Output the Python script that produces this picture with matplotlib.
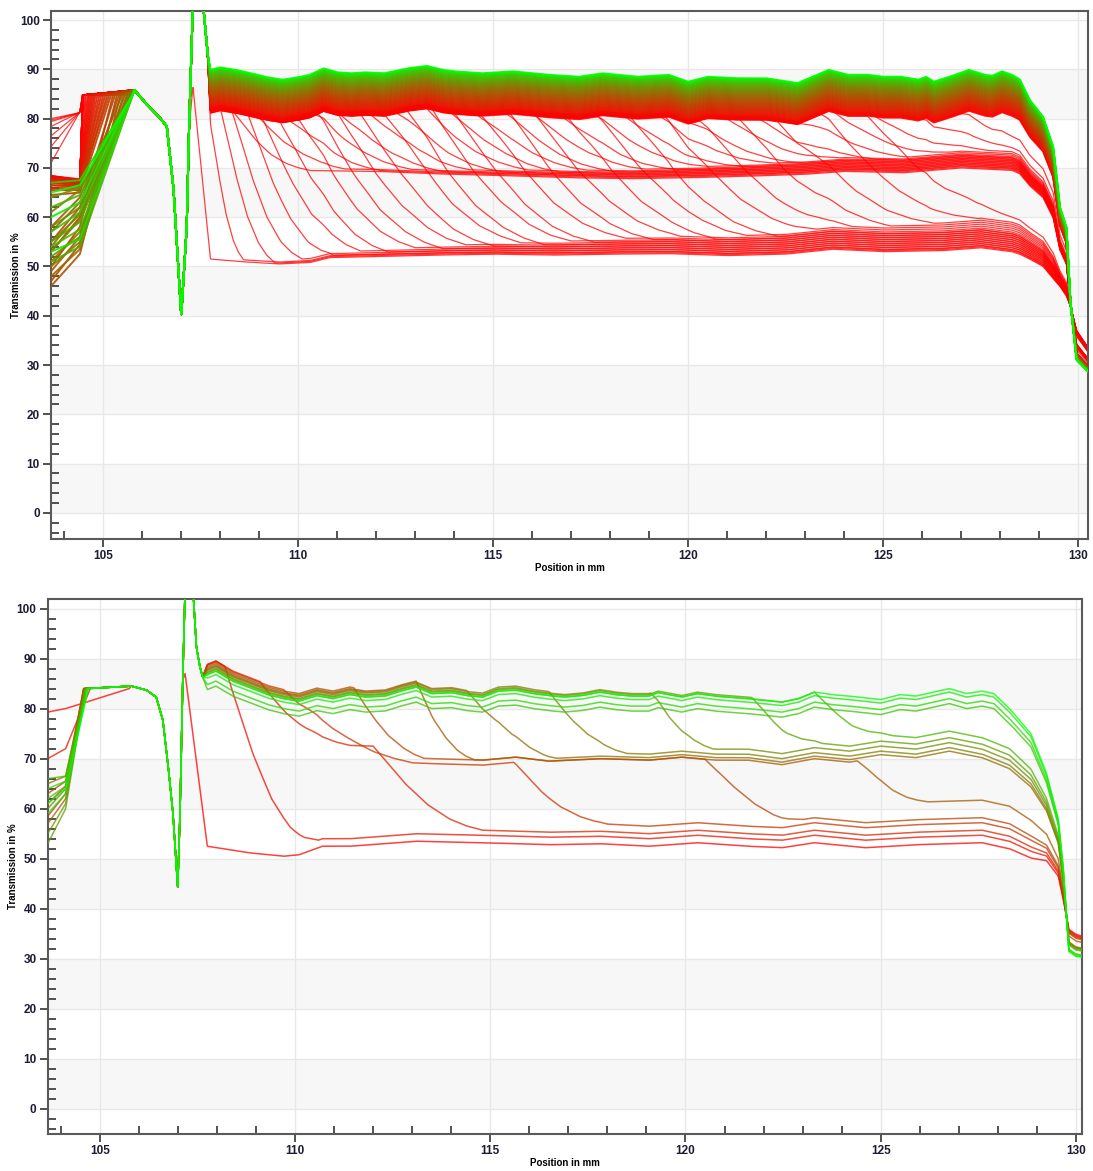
import numpy as np
import matplotlib.pyplot as plt

plt.rcParams['font.family'] = ['Liberation Sans', 'DejaVu Sans']

X_LEFT = 103.66

# ---------------- top chart, values ----------------
TOP_SPIKE_X = [106.1, 106.45, 106.63, 106.8, 107.0, 107.14, 107.2, 107.3, 107.55, 107.68]
TOP_SPIKE_Y = [83.0, 80.2, 78.4, 66.0, 40.0, 58.0, 78.0, 104.0, 104.0, 93.0]

TOP_PLAT_X = [107.75, 108.0, 108.4, 108.8, 109.2, 109.6, 110.0, 110.3, 110.65, 111.0, 111.35,
              111.7, 112.2, 112.8, 113.3, 113.7, 114.0, 114.7, 115.5, 116.4, 117.2, 117.8,
              118.7, 119.5, 120.0, 120.5, 121.2, 122.0, 122.8, 123.6, 124.1, 124.6, 125.0,
              125.45, 125.9, 126.1, 126.3, 126.7, 127.2, 127.6, 127.8, 128.05, 128.3]
TOP_PLAT_Y = [89.9, 90.4, 89.9, 89.2, 88.4, 87.9, 88.4, 88.9, 90.2, 89.4, 89.2,
              89.4, 89.2, 90.2, 90.7, 89.9, 89.6, 89.2, 89.6, 88.9, 88.5, 89.2,
              88.5, 88.9, 87.5, 88.5, 88.2, 88.2, 87.2, 89.9, 88.9, 88.9, 88.5,
              88.5, 87.9, 88.5, 87.5, 88.5, 89.9, 88.9, 88.7, 89.6, 88.9]
TOP_MID_X = [107.75, 110.0, 112.0, 113.5, 115.0, 117.0, 118.5, 120.0, 121.5, 123.0, 124.0, 125.5, 127.0, 128.3]
TOP_MID_Y = [70.0, 69.5, 69.3, 68.8, 68.5, 68.0, 67.8, 68.0, 68.3, 68.7, 69.3, 69.0, 70.0, 69.5]
TOP_LOW_X = [107.75, 108.5, 109.5, 110.3, 110.8, 112.0, 113.5, 115.0, 116.5, 118.0, 119.5,
             121.0, 122.5, 123.7, 125.0, 126.5, 127.5, 128.3]
TOP_LOW_Y = [51.5, 51.0, 50.5, 50.8, 51.8, 52.0, 52.3, 52.5, 52.3, 52.5, 52.6,
             52.2, 52.5, 53.5, 53.0, 53.2, 53.8, 53.0]
TOP_END_X = [128.3, 128.5, 128.76, 129.1, 129.36, 129.53, 129.7, 129.8, 129.96, 130.3]
TOP_END_HI = [88.9, 88.0, 83.8, 80.4, 74.3, 62.1, 58.0, 43.0, 31.0, 28.3]
TOP_END_LO = [53.0, 52.5, 51.5, 50.0, 47.5, 46.0, 44.0, 42.0, 37.0, 33.0]

# curves whose front falls to the low level (~52 %)
TOP_A_FRONT = [107.45, 107.7, 108.0, 108.3, 108.7, 109.1, 109.5, 110.0, 110.5, 111.0, 111.6,
               112.2, 112.8, 113.4, 114.0, 114.7, 115.4, 116.1, 116.9, 117.7, 118.5, 119.4,
               120.3, 121.3, 122.3, 123.4, 124.6]
TOP_A_WIDTH = [0.25, 0.9, 1.4, 1.8, 2.2, 2.5, 2.8, 3.0, 3.2, 3.3, 3.4, 3.5, 3.5, 3.6, 3.6,
               3.7, 3.7, 3.7, 3.8, 3.8, 3.8, 3.9, 3.9, 3.9, 4.0, 4.0, 4.0]
TOP_A_LEVEL = [0.0, 0.4, 0.2, 0.8, 0.5, 1.2, 0.9, 1.6, 1.3, 2.0, 1.7, 2.4, 2.1, 2.8, 2.5,
               3.2, 2.9, 3.6, 3.3, 4.0, 3.7, 4.4, 4.8, 5.2, 5.6, 6.0, 6.5]
TOP_A_DROP = [8.4, 8.7, 8.2, 8.5, 8.3, 8.8, 8.1, 8.4, 8.6, 8.2, 8.5, 8.3, 8.7, 8.1, 8.4,
              8.6, 8.2, 8.5, 8.3, 8.7, 8.1, 8.4, 8.6, 8.2, 8.5, 8.3, 8.4]
TOP_A_START = [80.0, 79.7, 79.4, 78.4, 76.5, 74.3, 71.0, 68.5, 68.0, 67.8, 68.3, 67.5, 68.0,
               67.2, 68.4, 67.6, 67.9, 68.2, 67.4, 68.0, 67.7, 68.3, 67.5, 68.1, 67.8, 67.3, 68.0]
TOP_A_KNEE = [81.2, 81.2, 81.2, 81.3, 81.3, 81.4, 81.4, 67.5, 67.3, 67.0, 67.6, 66.8, 67.2,
              66.6, 67.8, 67.0, 67.3, 67.5, 66.9, 67.4, 67.1, 67.6, 66.9, 67.5, 67.2, 66.8, 67.4]

# curves whose front falls to the middle level (~70 %)
TOP_B_FRONT = [108.3, 109.0, 109.7, 110.4, 111.1, 111.8, 112.5, 113.2, 113.9, 114.6, 115.3,
               116.0, 116.8, 117.6, 118.4, 119.2, 120.0, 120.9, 121.8, 122.7, 123.7, 124.7,
               125.8, 126.9]
TOP_B_WIDTH = [2.0, 2.2, 2.4, 2.5, 2.6, 2.6, 2.7, 2.7, 2.8, 2.8, 2.8, 2.9, 2.9, 2.9, 3.0,
               3.0, 3.0, 3.0, 3.0, 3.0, 3.0, 3.0, 3.0, 3.0]
TOP_B_LEVEL = [0.0, 0.4, 0.2, 0.7, 0.5, 1.0, 0.8, 1.3, 1.1, 1.6, 1.4, 1.9, 1.7, 2.2, 2.0,
               2.5, 2.3, 2.8, 2.6, 3.1, 3.4, 3.8, 4.2, 4.6]
TOP_B_DROP = [8.3, 8.6, 8.1, 8.4, 8.7, 8.2, 8.5, 8.0, 8.4, 8.6, 8.3, 8.1, 8.5, 8.2, 8.4,
              8.0, 8.3, 7.9, 8.2, 7.8, 8.1, 7.9, 7.7, 8.0]
TOP_B_START = [67.8, 68.2, 67.5, 68.0, 67.3, 68.4, 67.7, 68.1, 67.4, 67.9, 68.3, 67.6, 68.0,
               67.2, 67.8, 68.2, 67.5, 67.9, 68.1, 67.4, 67.7, 68.0, 67.6, 67.9]

# the upper band (no front), from red (bottom) to green (top)
TOP_C_DROP = [8.3, 8.1, 7.9, 7.7, 7.5, 7.3, 7.1, 6.9, 6.7, 6.5, 6.3, 6.1, 5.9, 5.7, 5.5,
              5.3, 5.1, 4.9, 4.7, 4.5, 4.3, 4.1, 3.9, 3.7, 3.5, 3.3, 3.1, 2.9, 2.7, 2.5,
              2.3, 2.1, 1.9, 1.7, 1.5, 1.3, 1.1, 0.9, 0.7, 0.5, 0.3, 0.15, 0.0]
TOP_C_START = [68.0, 67.8, 68.3, 67.5, 68.0, 67.2, 67.9, 67.0, 67.6, 66.5, 67.3, 66.0, 67.0,
               65.5, 66.5, 64.5, 50.0, 55.0, 47.0, 53.0, 46.0, 58.0, 49.0, 54.0, 48.0, 57.0,
               51.0, 53.0, 50.0, 61.0, 55.0, 58.0, 52.0, 64.0, 55.0, 51.0, 62.0, 54.0, 57.0,
               67.0, 53.0, 60.0, 65.0]
TOP_C_KNEE = [67.5, 67.2, 67.6, 67.0, 67.4, 66.8, 67.3, 66.5, 67.0, 66.2, 66.8, 65.8, 66.5,
              65.5, 66.2, 65.0, 58.0, 62.0, 54.5, 60.0, 52.5, 64.0, 56.0, 61.0, 53.5, 63.0,
              57.0, 59.5, 55.0, 65.5, 60.5, 62.0, 56.0, 66.0, 59.0, 54.0, 64.5, 57.5, 61.0,
              67.5, 55.5, 63.0, 66.5]
TOP_C_RISE = [104.5, 104.55, 104.6, 104.64, 104.68, 104.72, 104.76, 104.8, 104.85, 104.9,
              104.95, 105.0, 105.05, 105.1, 105.15, 105.2, 105.25, 105.3, 105.35, 105.4,
              105.44, 105.48, 105.52, 105.56, 105.6, 105.63, 105.66, 105.68, 105.7, 105.72,
              105.74, 105.75, 105.75, 105.75, 105.75, 105.75, 105.75, 105.75, 105.75, 105.75,
              105.75, 105.75, 105.75]

# ---------------- bottom chart ----------------
BOT_SPIKE_X = [106.19, 106.44, 106.61, 106.74, 106.87, 106.99, 107.05, 107.12, 107.18, 107.38,
               107.47, 107.55, 107.63]
BOT_SPIKE_Y = [83.7, 82.3, 77.7, 69.0, 59.0, 44.0, 59.0, 85.7, 104.0, 104.0, 92.3, 88.7, 86.3]
BOT_PLAT_X = [107.75, 107.97, 108.4, 108.8, 109.3, 109.7, 110.1, 110.55, 110.97, 111.4, 111.8,
              112.3, 112.7, 113.1, 113.5, 114.0, 114.4, 114.8, 115.2, 115.65, 116.1, 116.5,
              116.9, 117.35, 117.8, 118.2, 118.6, 119.06, 119.3, 119.9, 120.3, 120.76, 121.6,
              122.47, 122.9, 123.3, 123.75, 124.2, 125.0, 125.5, 125.9, 126.76, 127.2, 127.6,
              127.9, 128.3]
BOT_PLAT_Y = [86.8, 87.5, 85.5, 84.3, 82.8, 82.0, 81.5, 82.6, 82.0, 82.8, 82.3,
              82.5, 83.5, 84.3, 83.0, 83.2, 82.6, 82.3, 83.5, 83.7, 83.0, 82.6,
              82.3, 82.6, 83.3, 82.8, 82.5, 82.5, 83.2, 82.3, 83.0, 82.5, 82.0,
              81.3, 82.0, 83.3, 82.8, 82.5, 81.8, 82.8, 82.5, 84.0, 83.0, 83.5,
              83.0, 80.0]
BOT_MID_X = [107.75, 110.0, 112.0, 113.5, 114.8, 115.65, 116.5, 117.8, 119.06, 119.9, 120.76,
             121.6, 122.47, 123.3, 124.2, 125.0, 125.9, 126.76, 127.6, 128.3]
BOT_MID_Y = [71.0, 71.0, 70.5, 70.0, 69.7, 70.3, 69.5, 70.0, 69.7, 70.3, 69.7,
             69.7, 68.8, 70.0, 69.3, 70.3, 69.7, 71.0, 69.7, 67.5]
BOT_LOW_X = [107.75, 108.8, 109.7, 110.1, 110.7, 111.4, 113.1, 114.8, 116.5, 117.8, 119.06,
             120.3, 121.6, 122.47, 123.3, 124.6, 125.9, 127.6, 128.3]
BOT_LOW_Y = [52.0, 50.7, 50.0, 50.3, 52.0, 52.0, 53.0, 52.7, 52.3, 52.5, 52.0,
             52.7, 52.0, 51.7, 52.7, 51.7, 52.3, 52.7, 51.5]
BOT_END_X = [128.3, 128.85, 129.25, 129.55, 129.68, 129.82, 130.0, 130.2]
BOT_END_HI = [80.0, 75.0, 67.0, 58.0, 48.0, 31.5, 30.5, 30.3]
BOT_END_LO = [51.5, 49.7, 49.3, 46.3, 41.7, 36.0, 35.0, 34.5]

BOT_COLOUR = [0.0, 0.07, 0.14, 0.21, 0.28, 0.35, 0.42, 0.49, 0.56, 0.63, 0.7, 0.78, 0.85, 0.93, 1.0]
BOT_START = [79.3, 70.0, 58.5, 61.0, 63.0, 57.0, 65.0, 60.0, 55.0, 53.0, 66.0, 62.0, 64.0, 59.0, 61.0]
BOT_KNEE = [80.0, 72.0, 63.0, 64.5, 65.5, 62.0, 66.5, 64.0, 61.0, 60.0, 66.5, 64.5, 65.5, 63.0, 64.0]
BOT_RISE = [105.75, 104.75, 104.58, 104.58, 104.58, 104.6, 104.6, 104.6, 104.62, 104.62,
            104.65, 104.65, 104.68, 104.68, 104.7]
BOT_PEAK = [87.0] + [104.0] * 14
BOT_DROP = [0.0, -2.0, -2.0, -1.8, -1.5, -1.2, -1.0, -0.8, -0.5, -0.3, 0.0, 3.0, 2.0, 0.7, 0.0]
# (front, width, level, offset) for each bottom curve
BOT_FRONTS = [
    [(107.45, 0.2, 'low', 0.5)],
    [(108.2, 2.4, 'low', 2.0)],
    [(109.1, 2.3, 'mid', 2.0), (112.0, 2.8, 'low', 3.0)],
    [(109.7, 3.3, 'mid', -1.0), (115.6, 2.4, 'low', 4.5)],
    [(111.5, 1.8, 'mid', 0.0), (120.5, 2.5, 'low', 5.5)],
    [(113.1, 1.5, 'mid', 0.0), (124.4, 1.8, 'low', 9.0)],
    [(114.4, 2.3, 'mid', 0.5)],
    [(116.5, 2.0, 'mid', 1.2)],
    [(119.1, 1.6, 'mid', 2.2)],
    [(121.7, 1.8, 'mid', 3.2)],
    [(123.3, 2.0, 'mid', 4.5)],
    [],
    [],
    [],
    [],
]

FRONT_U = [0.0, 0.15, 0.3, 0.5, 0.7, 0.85, 1.0]
FRONT_F = [0.0, 0.22, 0.45, 0.7, 0.87, 0.95, 1.0]

TOP = dict(plat=(TOP_PLAT_X, TOP_PLAT_Y), mid=(TOP_MID_X, TOP_MID_Y), low=(TOP_LOW_X, TOP_LOW_Y),
           spike=(TOP_SPIKE_X, TOP_SPIKE_Y), end=(TOP_END_X, TOP_END_HI, TOP_END_LO),
           knee_x=104.4, top=84.8, peak=85.8)
BOT = dict(plat=(BOT_PLAT_X, BOT_PLAT_Y), mid=(BOT_MID_X, BOT_MID_Y), low=(BOT_LOW_X, BOT_LOW_Y),
           spike=(BOT_SPIKE_X, BOT_SPIKE_Y), end=(BOT_END_X, BOT_END_HI, BOT_END_LO),
           knee_x=104.12, top=84.0, peak=84.5)


def colour(t):
    return (1.0 - t, t, 0.0)


def curve(x, P, start, knee, rise, peak, drop, fronts):
    y = np.interp(x, *P['plat']) - drop
    for f, w, lvl, off in fronts:
        tgt = np.interp(x, *P[lvl]) + off
        k = np.interp((x - f) / w, FRONT_U, FRONT_F)
        y = y + (tgt - y) * k
    sx, sy = list(P['spike'][0]), list(P['spike'][1])
    if peak < 100:
        sy = [min(v, peak) for v, u in zip(sy, sx) if u <= 107.3]
        sx = [u for u in sx if u <= 107.3]
    kx = [X_LEFT, P['knee_x'], rise, 105.8] + sx + [107.75]
    ky = [start, knee, P['top'], P['peak']] + sy + [np.interp(107.75, x, y)]
    y = np.where(x < 107.75, np.interp(x, kx, ky), y)
    ex, hi, lo = P['end']
    hi, lo = np.array(hi), np.array(lo)
    v0 = np.interp(128.3, x, y)
    w = (v0 - lo[0]) / (hi[0] - lo[0])
    tail = lo + w * (hi - lo)
    return np.where(x > 128.3, np.interp(x, ex, tail), y)


def style(ax, xmax, ymin):
    ax.set_xlim(X_LEFT, xmax)
    ax.set_ylim(ymin, 101.9)
    for lo in range(0, 100, 20):
        ax.axhspan(lo, lo + 10, color='#f7f7f7', lw=0, zorder=0)
    ax.set_xticks([105, 110, 115, 120, 125, 130])
    ax.set_xticks(np.arange(104, 131), minor=True)
    ax.set_yticks(np.arange(0, 101, 10))
    ax.set_yticks(np.arange(-4, 101, 2), minor=True)
    ax.grid(which='major', color='#e8e8e8', lw=1.0, zorder=0.5)
    ax.set_axisbelow(True)
    ax.tick_params(which='major', direction='out', length=6, width=1.2, colors='#333333',
                   labelcolor='#1c1c34', labelsize=8.5, pad=2)
    ax.tick_params(which='minor', direction='in', length=6, width=1.2, colors='#333333')
    for lab in ax.get_xticklabels() + ax.get_yticklabels():
        lab.set_fontweight('bold')
    for side in ax.spines.values():
        side.set_color('#5a5a5a')
        side.set_linewidth(1.5)
    ax.set_xlabel('Position in mm', fontsize=7, fontweight='bold', labelpad=1)
    ax.set_ylabel('Transmission in %', fontsize=7, fontweight='bold', labelpad=-1)


x = np.linspace(X_LEFT, 130.3, 2400)

fig = plt.figure(figsize=(10.93, 11.71), dpi=100)
ax1 = fig.add_axes([0.04666, 0.53971, 0.94904, 0.45115])
ax2 = fig.add_axes([0.04364, 0.0316, 0.9460, 0.45687])

# top chart
for i in range(len(TOP_A_FRONT)):
    peak = 86.5 if i == 0 else 104.0
    y = curve(x, TOP, TOP_A_START[i], TOP_A_KNEE[i], 104.47, peak, TOP_A_DROP[i],
              [(TOP_A_FRONT[i], TOP_A_WIDTH[i], 'low', TOP_A_LEVEL[i])])
    ax1.plot(x, y, color=colour(0.0), lw=0.9, alpha=0.75, zorder=2)
for i in range(len(TOP_B_FRONT)):
    y = curve(x, TOP, TOP_B_START[i], 67.5, 104.48, 104.0, TOP_B_DROP[i],
              [(TOP_B_FRONT[i], TOP_B_WIDTH[i], 'mid', TOP_B_LEVEL[i])])
    ax1.plot(x, y, color=colour(0.0), lw=0.9, alpha=0.75, zorder=2)
d_max = max(TOP_C_DROP)
for i in range(len(TOP_C_DROP)):
    y = curve(x, TOP, TOP_C_START[i], TOP_C_KNEE[i], TOP_C_RISE[i], 104.0, TOP_C_DROP[i], [])
    t = 1.0 - (TOP_C_DROP[i] / d_max) ** 0.6
    ax1.plot(x, y, color=colour(t), lw=1.4, alpha=0.9, zorder=3)
style(ax1, 130.26, -5.3)

# bottom chart
for i in range(len(BOT_COLOUR)):
    y = curve(x, BOT, BOT_START[i], BOT_KNEE[i], BOT_RISE[i], BOT_PEAK[i], BOT_DROP[i], BOT_FRONTS[i])
    ax2.plot(x, y, color=colour(BOT_COLOUR[i]), lw=1.1, alpha=0.75, zorder=3)
style(ax2, 130.15, -5.0)

fig.savefig('out.png', dpi=100)
